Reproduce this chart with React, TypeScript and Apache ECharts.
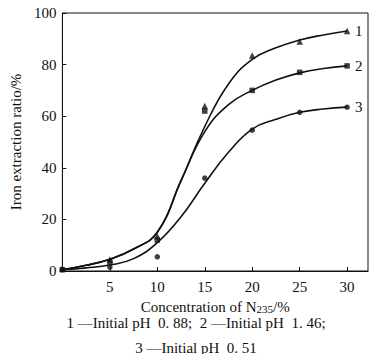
import React, { useEffect, useRef } from "react";
import * as echarts from "echarts";

const concentrations = [0, 5, 10, 15, 20, 25, 30];
const ratioPH088 = [1, 4.5, 13.5, 64, 83.5, 89, 93];
const ratioPH146 = [0.5, 3.5, 12, 62, 70, 77, 79.5];
const ratioPH051 = [0.5, 1.5, 5.5, 36, 54.6, 61.5, 63.5];

const curveX = [0, 2.5, 5, 7.5, 10, 12.5, 15, 17.5, 20, 22.5, 25, 27.5, 30];
const curve1Y = [0.5, 2.2, 4.6, 8.5, 15, 35, 56, 72.5, 82, 86.5, 89.5, 91.5, 93];
const curve2Y = [0.5, 2.2, 4.6, 8.5, 15, 35, 54, 64.5, 70, 74, 76.8, 78.5, 79.5];
const curve3Y = [0.5, 1.2, 2.3, 4.8, 11, 21, 34, 46, 55, 58.8, 61.5, 62.8, 63.5];

const curveNames = ["1", "2", "3"];
const yTicks = [0, 20, 40, 60, 80, 100];
const xTicks = [0, 5, 10, 15, 20, 25, 30];
const captionLine1 = "1 \u2014Initial pH  0. 88;  2 \u2014Initial pH  1. 46;";
const captionLine2 = "3 \u2014Initial pH  0. 51";

const FONT = '"Liberation Serif", "Times New Roman", serif';

const zip = (xs: number[], ys: number[]) => xs.map((x, i) => [x, ys[i]]);

export default function App() {
  const ref = useRef<HTMLDivElement>(null);
  useEffect(() => {
    if (!ref.current) return;
    const chart = echarts.init(ref.current, undefined, { renderer: "svg" });
    const curveSeries = (ys: number[], label: string) => ({
      type: "line",
      data: zip(curveX, ys),
      smooth: 0.45,
      showSymbol: false,
      silent: true,
      lineStyle: { color: "#111", width: 1.6 },
      endLabel: {
        show: true,
        formatter: label,
        color: "#111",
        fontFamily: FONT,
        fontSize: 15,
        distance: 8,
      },
      z: 2,
    });
    const markerSeries = (ys: number[], symbol: string, size: number) => ({
      type: "scatter",
      data: zip(concentrations, ys),
      symbol,
      symbolSize: size,
      itemStyle: { color: "#111" },
      z: 3,
    });
    chart.setOption({
      animation: false,
      backgroundColor: "#fff",
      grid: {
        left: 61,
        right: 11,
        top: 13,
        bottom: 91,
        show: true,
        borderColor: "#111",
        borderWidth: 1,
      },
      xAxis: {
        type: "value",
        min: xTicks[0],
        max: 32.2,
        interval: 5,
        axisLine: { lineStyle: { color: "#111", width: 1 } },
        axisTick: { inside: true, length: 4, lineStyle: { color: "#111" } },
        splitLine: { show: false },
        axisLabel: {
          color: "#111",
          fontFamily: FONT,
          fontSize: 15,
          margin: 8,
          showMaxLabel: false,
          formatter: (v: number) => (v === 0 || xTicks.indexOf(v) < 0 ? "" : String(v)),
        },
        name: "{a|Concentration of N}{s|235}{a|/%}",
        nameLocation: "middle",
        nameGap: 21,
        nameTextStyle: {
          rich: {
            a: { fontFamily: FONT, fontSize: 15, color: "#111", lineHeight: 17 },
            s: { fontFamily: FONT, fontSize: 11, color: "#111", lineHeight: 17, padding: [5, 0, 0, 0] },
          },
        },
      },
      yAxis: {
        type: "value",
        min: yTicks[0],
        max: yTicks[yTicks.length - 1],
        interval: 20,
        axisLine: { show: true, lineStyle: { color: "#111", width: 1 } },
        axisTick: { show: true, inside: true, length: 4, lineStyle: { color: "#111" } },
        splitLine: { show: false },
        axisLabel: { color: "#111", fontFamily: FONT, fontSize: 15, margin: 6 },
        name: "Iron extraction ratio/%",
        nameLocation: "middle",
        nameGap: 33,
        nameTextStyle: { fontFamily: FONT, fontSize: 15, color: "#111" },
      },
      graphic: [
        {
          type: "text",
          x: 196,
          y: 315,
          style: { text: captionLine1, fontFamily: FONT, fontSize: 15, fill: "#111", textAlign: "center" },
        },
        {
          type: "text",
          x: 196,
          y: 340,
          style: { text: captionLine2, fontFamily: FONT, fontSize: 15, fill: "#111", textAlign: "center" },
        },
      ],
      series: [
        curveSeries(curve1Y, curveNames[0]),
        curveSeries(curve2Y, curveNames[1]),
        curveSeries(curve3Y, curveNames[2]),
        markerSeries(ratioPH088, "triangle", 6.5),
        markerSeries(ratioPH146, "rect", 5.5),
        markerSeries(ratioPH051, "circle", 5.5),
      ],
    });
    return () => chart.dispose();
  }, []);
  return <div ref={ref} style={{ width: 379, height: 362, margin: -8 }} />;
}
